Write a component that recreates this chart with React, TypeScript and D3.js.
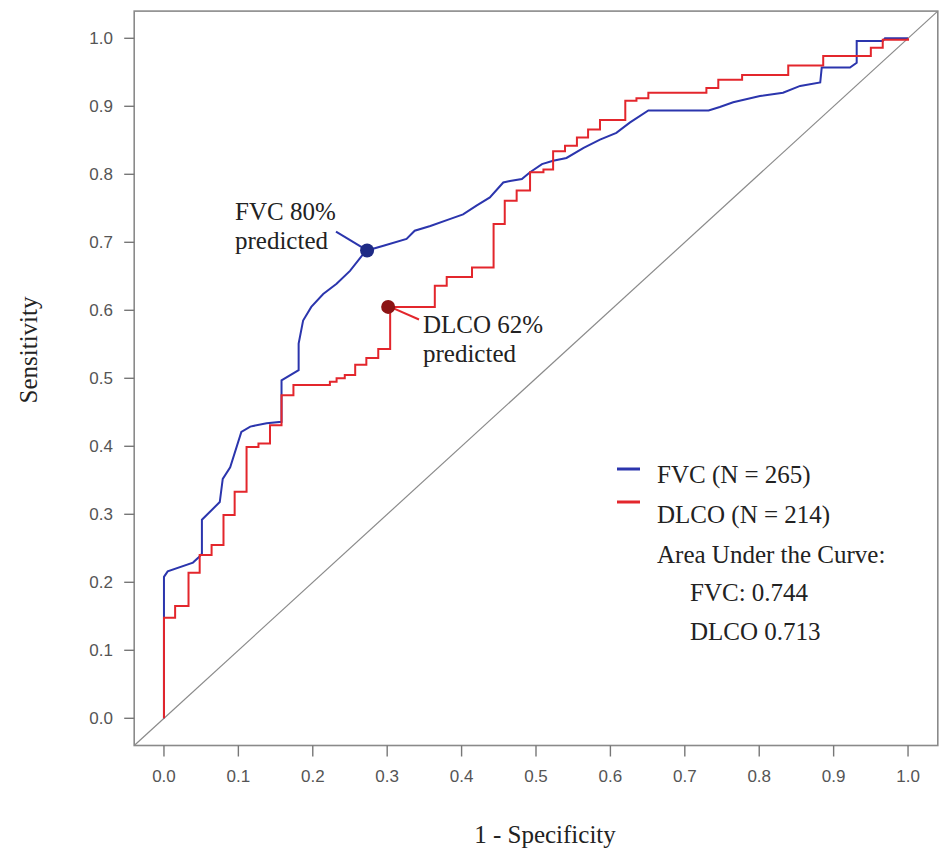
import React from "react";
import * as d3 from "d3";

const fvcFpr = [0, 0, 0.005, 0.039, 0.046, 0.051, 0.051, 0.075, 0.079, 0.089, 0.104, 0.116, 0.138, 0.158, 0.158, 0.181, 0.181, 0.187, 0.198, 0.214, 0.232, 0.25, 0.268, 0.273, 0.295, 0.326, 0.337, 0.358, 0.384, 0.402, 0.42, 0.438, 0.456, 0.465, 0.481, 0.492, 0.508, 0.523, 0.541, 0.564, 0.586, 0.608, 0.626, 0.651, 0.732, 0.747, 0.765, 0.801, 0.832, 0.855, 0.882, 0.884, 0.922, 0.931, 0.931, 0.966, 0.969, 1.0];
const fvcTpr = [0, 0.208, 0.216, 0.229, 0.236, 0.242, 0.292, 0.318, 0.352, 0.369, 0.421, 0.429, 0.434, 0.436, 0.497, 0.512, 0.551, 0.585, 0.605, 0.624, 0.639, 0.658, 0.683, 0.688, 0.695, 0.705, 0.717, 0.724, 0.734, 0.741, 0.754, 0.766, 0.788, 0.79, 0.793, 0.803, 0.815, 0.82, 0.824, 0.839, 0.851, 0.861, 0.876, 0.894, 0.894, 0.899, 0.906, 0.915, 0.92, 0.93, 0.935, 0.957, 0.957, 0.964, 0.996, 0.996, 1.0, 1.0];

// DLCO: step curve, each point = (fpr at jump, tpr after jump)
const dlcoFpr = [0, 0, 0.015, 0.033, 0.048, 0.064, 0.08, 0.095, 0.111, 0.127, 0.1425, 0.158, 0.174, 0.223, 0.232, 0.243, 0.257, 0.272, 0.288, 0.304, 0.364, 0.38, 0.414, 0.443, 0.458, 0.474, 0.492, 0.51, 0.523, 0.539, 0.555, 0.57, 0.586, 0.62, 0.635, 0.651, 0.729, 0.745, 0.777, 0.839, 0.886, 0.95, 0.966, 1.0];
const dlcoTpr = [0, 0.148, 0.165, 0.214, 0.24, 0.255, 0.299, 0.333, 0.399, 0.404, 0.431, 0.475, 0.49, 0.495, 0.5, 0.505, 0.52, 0.53, 0.543, 0.605, 0.636, 0.649, 0.663, 0.727, 0.761, 0.776, 0.803, 0.807, 0.834, 0.842, 0.854, 0.866, 0.88, 0.908, 0.912, 0.92, 0.927, 0.939, 0.946, 0.96, 0.974, 0.986, 0.998, 1.0];

const tickValues = [0, 0.1, 0.2, 0.3, 0.4, 0.5, 0.6, 0.7, 0.8, 0.9, 1.0];
const fvcCut = [0.273, 0.688];
const dlcoCut = [0.304, 0.605];
const legendLabels = ["FVC (N = 265)", "DLCO (N = 214)"];
const aucTitle = "Area Under the Curve:";
const aucLines = ["FVC: 0.744", "DLCO 0.713"];

const BLUE = "#2b35ad";
const RED = "#e3262c";
const SERIF = "'Liberation Serif', 'Times New Roman', serif";
const SANS = "'Liberation Sans', Arial, sans-serif";

export default function App() {
  const x = d3.scaleLinear().domain([-0.04, 1.04]).range([134.2, 937.8]);
  const y = d3.scaleLinear().domain([-0.04, 1.04]).range([745.5, 11.1]);

  const fvcPts: [number, number][] = fvcFpr.map((f, i) => [f, fvcTpr[i]]);
  const dlcoPts: [number, number][] = dlcoFpr.map((f, i) => [f, dlcoTpr[i]]);

  const lineLin = d3.line<[number, number]>().x((d) => x(d[0])).y((d) => y(d[1]));
  const lineStep = d3
    .line<[number, number]>()
    .x((d) => x(d[0]))
    .y((d) => y(d[1]))
    .curve(d3.curveStepAfter);

  const [x0, x1] = x.range();
  const [y0, y1] = y.range();

  return (
    <svg
      width={940}
      height={849}
      style={{ position: "absolute", left: 0, top: 0, background: "#fff" }}
    >
      <rect x={0} y={0} width={940} height={849} fill="#fff" />
      {/* diagonal */}
      <line x1={x(-0.04)} y1={y(-0.04)} x2={x(1.04)} y2={y(1.04)} stroke="#8a8a8a" strokeWidth={1.2} />
      {/* box */}
      <rect x={x0} y={y1} width={x1 - x0} height={y0 - y1} fill="none" stroke="#8a8a8a" strokeWidth={1.6} />
      {/* x axis ticks */}
      {tickValues.map((t) => (
        <g key={"xt" + t}>
          <line x1={x(t)} x2={x(t)} y1={y0} y2={y0 + 11} stroke="#777" strokeWidth={1.4} />
          <text x={x(t)} y={776} textAnchor="middle" dominantBaseline="central" fontFamily={SANS} fontSize={17} fill="#555">
            {t.toFixed(1)}
          </text>
        </g>
      ))}
      {/* y axis ticks */}
      {tickValues.map((t) => (
        <g key={"yt" + t}>
          <line x1={x0 - 10} x2={x0} y1={y(t)} y2={y(t)} stroke="#777" strokeWidth={1.4} />
          <text x={113} y={y(t)} textAnchor="end" dominantBaseline="central" fontFamily={SANS} fontSize={17} fill="#555">
            {t.toFixed(1)}
          </text>
        </g>
      ))}
      {/* axis titles */}
      <text x={545} y={843} textAnchor="middle" fontFamily={SERIF} fontSize={25} fill="#222">
        1 - Specificity
      </text>
      <text
        transform={`translate(37,350) rotate(-90)`}
        textAnchor="middle"
        fontFamily={SERIF}
        fontSize={25}
        fill="#222"
      >
        Sensitivity
      </text>
      {/* curves */}
      <path d={lineLin(fvcPts) || ""} fill="none" stroke={BLUE} strokeWidth={2} />
      <path d={lineStep(dlcoPts) || ""} fill="none" stroke={RED} strokeWidth={2} />
      {/* annotations */}
      <line x1={336} y1={231.7} x2={x(fvcCut[0])} y2={y(fvcCut[1])} stroke={BLUE} strokeWidth={2} />
      <circle cx={x(fvcCut[0])} cy={y(fvcCut[1])} r={7} fill="#1e2a85" />
      <text x={235} y={220} fontFamily={SERIF} fontSize={25} fill="#222">FVC 80%</text>
      <text x={235} y={249} fontFamily={SERIF} fontSize={25} fill="#222">predicted</text>

      <line x1={x(dlcoCut[0])} y1={y(dlcoCut[1])} x2={419} y2={319.5} stroke={RED} strokeWidth={2} />
      <circle cx={x(dlcoCut[0]) - 2} cy={y(dlcoCut[1])} r={7} fill="#8c1414" />
      <text x={423} y={333} fontFamily={SERIF} fontSize={25} fill="#222">DLCO 62%</text>
      <text x={423} y={362} fontFamily={SERIF} fontSize={25} fill="#222">predicted</text>

      {/* legend */}
      <line x1={617} x2={640} y1={469} y2={469} stroke={BLUE} strokeWidth={3} />
      <line x1={617} x2={640} y1={502} y2={502} stroke={RED} strokeWidth={3} />
      <text x={657} y={483} fontFamily={SERIF} fontSize={25} fill="#222">{legendLabels[0]}</text>
      <text x={657} y={523} fontFamily={SERIF} fontSize={25} fill="#222">{legendLabels[1]}</text>
      <text x={657} y={563} fontFamily={SERIF} fontSize={25} fill="#222">{aucTitle}</text>
      <text x={690} y={601} fontFamily={SERIF} fontSize={25} fill="#222">{aucLines[0]}</text>
      <text x={690} y={640} fontFamily={SERIF} fontSize={25} fill="#222">{aucLines[1]}</text>
    </svg>
  );
}
